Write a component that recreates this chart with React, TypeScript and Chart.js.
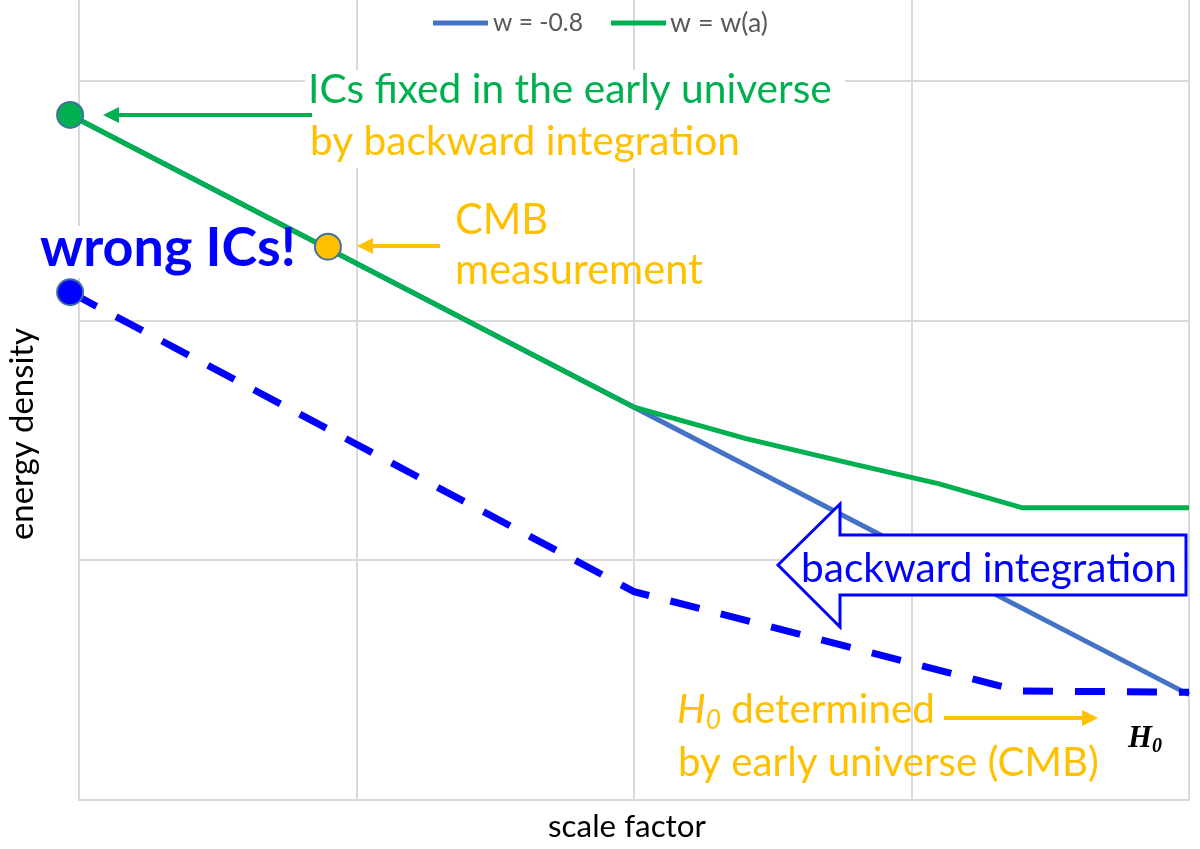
import React, { useEffect, useRef } from "react";
import { Chart, registerables } from "chart.js";

Chart.register(...registerables);

// ---------------- data ----------------
const seriesLabels = ["w = -0.8", "w = w(a)"];
const xTicks = [0, 1, 2, 3, 4];
const yTicks = [0, 1, 2, 3];
const xRange = [0, 4];
const yRange = [0, 3.34];

// w = -0.8 (solid blue)
const blueX = [-0.032, 2.0, 4.0];
const blueY = [2.86, 1.64, 0.44];
// w = w(a) (green)
const greenX = [-0.032, 2.0, 2.4, 2.8, 3.1, 3.4, 4.0];
const greenY = [2.86, 1.64, 1.51, 1.4, 1.32, 1.22, 1.22];
// wrong ICs (dashed blue)
const wrongX = [-0.032, 2.0, 3.39, 4.0];
const wrongY = [2.12, 0.87, 0.455, 0.45];
// CMB measurement point
const cmbX = [0.897];
const cmbY = [2.31];

// ---------------- styles ----------------
const BLUE_LINE = "#4472C4";
const GREEN = "#00B050";
const YELLOW = "#FFC000";
const PURE_BLUE = "#0000FF";
const POINT_BORDER = "#41719C";
const GRID = "#d9d9d9";
const FONT = "Lato, 'Open Sans', sans-serif";
const SERIF = "'Liberation Serif', 'DejaVu Serif', serif";

const pts = (xs: number[], ys: number[]) => xs.map((x, i) => ({ x, y: ys[i] }));

const fnt = (size: number, weight = "normal", style = "normal", family = FONT) =>
  `${style} ${weight} ${size}px ${family}`;

function fitSize(ctx: CanvasRenderingContext2D, text: string, target: number, weight = "normal", style = "normal", family = FONT) {
  ctx.font = fnt(100, weight, style, family);
  return (100 * target) / ctx.measureText(text).width;
}

function drawAt(
  ctx: CanvasRenderingContext2D,
  text: string,
  x: number,
  y: number,
  size: number,
  color: string,
  weight = "normal",
  style = "normal",
  family = FONT,
  align: CanvasTextAlign = "left",
  baseline: CanvasTextBaseline = "alphabetic"
) {
  ctx.font = fnt(size, weight, style, family);
  ctx.fillStyle = color;
  ctx.textAlign = align;
  ctx.textBaseline = baseline;
  ctx.fillText(text, x, y);
}

function drawText(
  ctx: CanvasRenderingContext2D,
  text: string,
  x: number,
  y: number,
  target: number,
  color: string,
  weight = "normal",
  style = "normal",
  family = FONT,
  align: CanvasTextAlign = "left",
  baseline: CanvasTextBaseline = "alphabetic"
) {
  const s = fitSize(ctx, text, target, weight, style, family);
  drawAt(ctx, text, x, y, s, color, weight, style, family, align, baseline);
  return s;
}

function arrow(ctx: CanvasRenderingContext2D, x1: number, y1: number, x2: number, y2: number, color: string, lw: number, hl: number, hw: number) {
  const a = Math.atan2(y2 - y1, x2 - x1);
  const bx = x2 - hl * Math.cos(a);
  const by = y2 - hl * Math.sin(a);
  ctx.save();
  ctx.strokeStyle = color;
  ctx.lineWidth = lw;
  ctx.lineCap = "butt";
  ctx.beginPath();
  ctx.moveTo(x1, y1);
  ctx.lineTo(bx, by);
  ctx.stroke();
  ctx.fillStyle = color;
  ctx.beginPath();
  ctx.moveTo(x2, y2);
  ctx.lineTo(bx + hw * Math.sin(a), by - hw * Math.cos(a));
  ctx.lineTo(bx - hw * Math.sin(a), by + hw * Math.cos(a));
  ctx.closePath();
  ctx.fill();
  ctx.restore();
}

function drawH0(
  ctx: CanvasRenderingContext2D,
  x: number,
  baseline: number,
  target: number,
  color: string,
  family: string,
  weight: string,
  rest: string
) {
  ctx.font = fnt(100, weight, "italic", family);
  const wH = ctx.measureText("H").width;
  ctx.font = fnt(65, weight, "italic", family);
  const w0 = ctx.measureText("0").width;
  ctx.font = fnt(100, "normal", "normal", FONT);
  const wR = rest ? ctx.measureText(rest).width : 0;
  const s = (100 * target) / (wH + w0 + wR);
  const k = s / 100;
  ctx.fillStyle = color;
  ctx.textAlign = "left";
  ctx.textBaseline = "alphabetic";
  ctx.font = fnt(s, weight, "italic", family);
  ctx.fillText("H", x, baseline);
  ctx.font = fnt(s * 0.65, weight, "italic", family);
  ctx.fillText("0", x + wH * k, baseline + s * 0.16);
  if (rest) {
    ctx.font = fnt(s, "normal", "normal", FONT);
    ctx.fillText(rest, x + (wH + w0) * k, baseline);
  }
}

const backgroundBoxes = {
  id: "backgroundBoxes",
  beforeDatasetsDraw(chart: any) {
    const ctx = chart.ctx as CanvasRenderingContext2D;
    ctx.save();
    ctx.fillStyle = "#ffffff";
    ctx.fillRect(305, 70, 540, 98);
    ctx.fillRect(30, 226, 272, 52);
    ctx.restore();
  },
};

const annotations = {
  id: "annotations",
  afterDraw(chart: any) {
    const ctx = chart.ctx as CanvasRenderingContext2D;
    ctx.save();

    // legend
    const ds = chart.data.datasets;
    ctx.lineWidth = 5;
    ctx.strokeStyle = ds[0].borderColor;
    ctx.beginPath();
    ctx.moveTo(433, 23);
    ctx.lineTo(488, 23);
    ctx.stroke();
    drawText(ctx, seriesLabels[0], 493, 23, 90, "#595959", "normal", "normal", FONT, "left", "middle");
    ctx.strokeStyle = ds[1].borderColor;
    ctx.beginPath();
    ctx.moveTo(611, 23);
    ctx.lineTo(666, 23);
    ctx.stroke();
    drawText(ctx, seriesLabels[1], 670, 23, 98, "#595959", "normal", "normal", FONT, "left", "middle");

    // axis titles
    drawText(ctx, "scale factor", 627, 837, 158, "#000000", "normal", "normal", FONT, "center");
    ctx.save();
    ctx.translate(33, 434);
    ctx.rotate(-Math.PI / 2);
    drawText(ctx, "energy density", 0, 0, 212, "#000000", "normal", "normal", FONT, "center");
    ctx.restore();

    // IC annotation
    const s1 = drawText(ctx, "ICs fixed in the early universe", 308, 103, 524, GREEN);
    drawAt(ctx, "by backward integration", 310, 155, s1, YELLOW);
    arrow(ctx, 312, 115, 103, 115, GREEN, 4, 16, 8);

    // CMB annotation
    const s2 = fitSize(ctx, "measurement", 248);
    drawAt(ctx, "CMB", 455, 234, s2, YELLOW);
    drawAt(ctx, "measurement", 455, 284, s2, YELLOW);
    arrow(ctx, 440, 246, 357, 246, YELLOW, 4, 16, 8);

    // wrong ICs
    drawText(ctx, "wrong ICs!", 40, 266, 256, PURE_BLUE, "bold");

    // big hollow arrow
    ctx.beginPath();
    ctx.moveTo(778, 565);
    ctx.lineTo(840, 504);
    ctx.lineTo(840, 535);
    ctx.lineTo(1186, 535);
    ctx.lineTo(1186, 595);
    ctx.lineTo(840, 595);
    ctx.lineTo(840, 627);
    ctx.closePath();
    ctx.fillStyle = "#ffffff";
    ctx.fill();
    ctx.lineWidth = 3;
    ctx.lineJoin = "miter";
    ctx.strokeStyle = PURE_BLUE;
    ctx.stroke();
    drawText(ctx, "backward integration", 801, 582, 376, PURE_BLUE);

    // H0 annotation
    drawH0(ctx, 677, 723, 258, YELLOW, FONT, "normal", " determined");
    drawText(ctx, "by early universe (CMB)", 678, 776, 421, YELLOW);
    arrow(ctx, 944, 718, 1098, 718, YELLOW, 4, 16, 8);
    drawH0(ctx, 1128, 747, 34, "#000000", SERIF, "bold", "");

    ctx.restore();
  },
};

export default function App() {
  const ref = useRef<HTMLCanvasElement | null>(null);

  useEffect(() => {
    document.body.style.margin = "0";
    if (!ref.current) return;
    const chart = new Chart(ref.current, {
      type: "line",
      data: {
        datasets: [
          {
            label: seriesLabels[0],
            data: pts(blueX, blueY),
            borderColor: BLUE_LINE,
            backgroundColor: BLUE_LINE,
            borderWidth: 5,
            pointRadius: 0,
            tension: 0,
            clip: false as any,
            order: 4,
          },
          {
            label: seriesLabels[1],
            data: pts(greenX, greenY),
            borderColor: GREEN,
            backgroundColor: GREEN,
            borderWidth: 5,
            pointRadius: greenX.map((_, i) => (i === 0 ? 13 : 0)),
            pointBackgroundColor: GREEN,
            pointBorderColor: POINT_BORDER,
            pointBorderWidth: 2,
            tension: 0,
            clip: false as any,
            order: 2,
          },
          {
            label: "wrong ICs",
            data: pts(wrongX, wrongY),
            borderColor: PURE_BLUE,
            backgroundColor: PURE_BLUE,
            borderWidth: 7,
            borderDash: [30, 22],
            pointRadius: wrongX.map((_, i) => (i === 0 ? 13 : 0)),
            pointBackgroundColor: PURE_BLUE,
            pointBorderColor: POINT_BORDER,
            pointBorderWidth: 2,
            tension: 0,
            clip: false as any,
            order: 3,
          },
          {
            label: "CMB measurement",
            data: pts(cmbX, cmbY),
            showLine: false,
            borderColor: POINT_BORDER,
            backgroundColor: YELLOW,
            pointRadius: 13,
            pointBackgroundColor: YELLOW,
            pointBorderColor: POINT_BORDER,
            pointBorderWidth: 2,
            clip: false as any,
            order: 1,
          },
        ],
      },
      options: {
        animation: false,
        responsive: false,
        devicePixelRatio: 1,
        layout: { autoPadding: false, padding: { left: 0, right: 11, top: 0, bottom: 0 } },
        plugins: {
          legend: { display: false },
          tooltip: { enabled: false },
        },
        scales: {
          x: {
            type: "linear",
            min: xRange[0],
            max: xRange[1],
            ticks: { display: false },
            grid: { color: GRID, lineWidth: 2, drawTicks: false },
            border: { display: true, color: GRID, width: 2 },
            afterBuildTicks: (s: any) => {
              s.ticks = xTicks.map((v) => ({ value: v }));
            },
            afterFit: (s: any) => {
              s.height = 49;
            },
          },
          y: {
            type: "linear",
            min: yRange[0],
            max: yRange[1],
            ticks: { display: false },
            grid: { color: GRID, lineWidth: 2, drawTicks: false },
            border: { display: true, color: GRID, width: 2 },
            afterBuildTicks: (s: any) => {
              s.ticks = yTicks.map((v) => ({ value: v }));
            },
            afterFit: (s: any) => {
              s.width = 79;
            },
          },
        },
      } as any,
      plugins: [backgroundBoxes, annotations],
    });
    return () => chart.destroy();
  }, []);

  return (
    <div style={{ width: 1200, height: 849, background: "#fff" }}>
      <canvas ref={ref} width={1200} height={849} />
    </div>
  );
}
